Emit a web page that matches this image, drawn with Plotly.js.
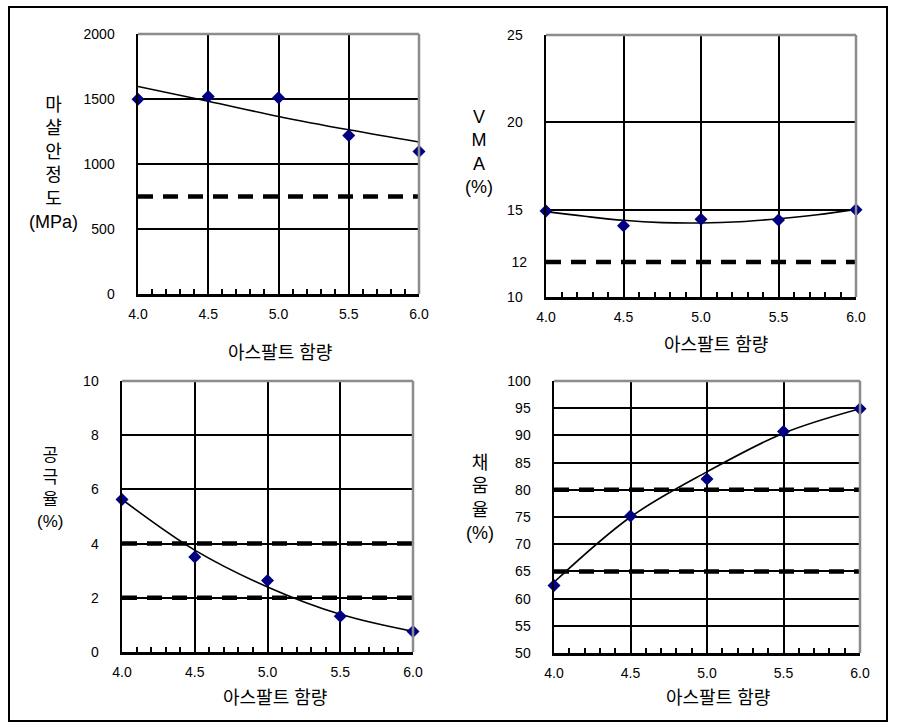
<!DOCTYPE html>
<html>
<head>
<meta charset="utf-8">
<script src="https://cdn.plot.ly/plotly-3.0.1.min.js"></script>
<style>
  html, body { margin: 0; padding: 0; background: #fff; }
  #chart { width: 904px; height: 728px; }
</style>
</head>
<body>
<div id="chart"></div>
<script>
// ---- data ----
const asphaltContent = [4.0, 4.5, 5.0, 5.5, 6.0];
const vmaTrendX = [4.0, 4.25, 4.5, 4.75, 5.0, 5.25, 5.5, 5.75, 6.0];
const xTickVals = [4.0, 4.5, 5.0, 5.5, 6.0];
const xTickText = ['4.0', '4.5', '5.0', '5.5', '6.0'];

const marshall = [1499, 1519, 1509, 1220, 1097];
const marshallTrend = [1596, 1483, 1366, 1263, 1169];
const marshallLimit = [750, 750];

const vma = [14.92, 14.08, 14.45, 14.41, 15.0];
const vmaTrend = [14.89, 14.62, 14.39, 14.26, 14.24, 14.31, 14.48, 14.71, 15.02];
const vmaLimit = [12, 12];

const airVoids = [5.63, 3.51, 2.64, 1.32, 0.76];
const airVoidsTrend = [5.63, 3.76, 2.40, 1.39, 0.76];
const airVoidsUpper = [4, 4];
const airVoidsLower = [2, 2];

const vfa = [62.4, 75.2, 82.0, 90.7, 94.9];
const vfaTrend = [63.0, 75.0, 83.3, 90.4, 94.9];
const vfaUpper = [80, 80];
const vfaLower = [65, 65];

const limitX = [4.0, 6.0];

// ---- styling ----
const W = 904, H = 728;
const px = v => v / W;
const py = v => 1 - v / H;
const tickFont = { family: 'Liberation Sans, Arial, sans-serif', size: 14, color: '#000' };
const titleFont = { family: "Liberation Sans, 'Noto Sans CJK KR', sans-serif", size: 18, color: '#000' };

function pointsTrace(y, xa, ya) {
  return { x: asphaltContent, y: y, xaxis: xa, yaxis: ya, type: 'scatter', mode: 'markers',
    marker: { symbol: 'diamond', size: 10, color: '#000080' }, cliponaxis: false, hoverinfo: 'skip' };
}
function trendTrace(x, y, xa, ya) {
  return { x: x, y: y, xaxis: xa, yaxis: ya, type: 'scatter', mode: 'lines',
    line: { color: '#000', width: 1.6, shape: 'spline', smoothing: 1 }, cliponaxis: false, hoverinfo: 'skip' };
}
function limitTrace(y, xa, ya) {
  return { x: limitX, y: y, xaxis: xa, yaxis: ya, type: 'scatter', mode: 'lines',
    line: { color: '#000', width: 4.5, dash: '15px,10px' }, hoverinfo: 'skip' };
}

const traces = [
  limitTrace(marshallLimit, 'x', 'y'),
  trendTrace(asphaltContent, marshallTrend, 'x', 'y'),
  pointsTrace(marshall, 'x', 'y'),

  limitTrace(vmaLimit, 'x2', 'y5'),
  trendTrace(vmaTrendX, vmaTrend, 'x2', 'y2'),
  pointsTrace(vma, 'x2', 'y2'),

  limitTrace(airVoidsUpper, 'x3', 'y3'),
  limitTrace(airVoidsLower, 'x3', 'y3'),
  trendTrace(asphaltContent, airVoidsTrend, 'x3', 'y3'),
  pointsTrace(airVoids, 'x3', 'y3'),

  limitTrace(vfaUpper, 'x4', 'y4'),
  limitTrace(vfaLower, 'x4', 'y4'),
  trendTrace(asphaltContent, vfaTrend, 'x4', 'y4'),
  pointsTrace(vfa, 'x4', 'y4'),
];

function xAxis(domain, anchor) {
  return {
    domain: domain, anchor: anchor, range: [4, 6], tickmode: 'array', tickvals: xTickVals, ticktext: xTickText,
    showgrid: true, gridcolor: '#000', gridwidth: 2, zeroline: false,
    showline: true, linecolor: '#000', linewidth: 2.5,
    ticks: 'inside', ticklen: 5, tickwidth: 2, tickcolor: '#000',
    minor: { dtick: 0.1, ticks: 'inside', ticklen: 5, tickwidth: 2, tickcolor: '#000', showgrid: false },
    tickfont: tickFont, ticklabelstandoff: 6, fixedrange: true
  };
}
function yAxis(domain, anchor, range, tickvals) {
  return {
    domain: domain, anchor: anchor, range: range, tickmode: 'array', tickvals: tickvals,
    showgrid: true, gridcolor: '#000', gridwidth: 2, zeroline: false,
    showline: true, linecolor: '#000', linewidth: 2.5, ticks: '',
    tickfont: tickFont, ticklabelstandoff: 18, fixedrange: true
  };
}

const d1x = [px(138), px(419)], d1y = [py(294), py(34)];
const d2x = [px(546), px(856)], d2y = [py(297), py(35)];
const d3x = [px(122), px(413)], d3y = [py(652), py(381)];
const d4x = [px(554), px(860)], d4y = [py(653), py(381)];

const shapes = [];
[['x', 'y'], ['x2', 'y2'], ['x3', 'y3'], ['x4', 'y4']].forEach(([xa, ya]) => {
  shapes.push({ type: 'line', xref: xa + ' domain', yref: ya + ' domain', x0: 0, x1: 1, y0: 1, y1: 1,
    line: { color: '#8c8c8c', width: 2.5 }, layer: 'above' });
  shapes.push({ type: 'line', xref: xa + ' domain', yref: ya + ' domain', x0: 1, x1: 1, y0: 0, y1: 1,
    line: { color: '#8c8c8c', width: 2.5 }, layer: 'above' });
});
// outer frame
shapes.push({ type: 'rect', xref: 'paper', yref: 'paper', x0: px(9), x1: px(887), y0: py(721), y1: py(7),
  line: { color: '#000', width: 2 }, fillcolor: 'rgba(0,0,0,0)', layer: 'above' });

function ann(text, x, y, size) {
  return { text: text, xref: 'paper', yref: 'paper', x: px(x), y: py(y), xanchor: 'center', yanchor: 'middle',
    showarrow: false, font: Object.assign({}, titleFont, size ? { size: size } : {}) };
}
const xTitle = '아스팔트 함량';
const annotations = [
  ann(xTitle, 280, 353), ann(xTitle, 716, 345), ann(xTitle, 275, 698), ann(xTitle, 718, 698),
  ann('마<br>샬<br>안<br>정<br>도<br>(MPa)', 53, 163),
  ann('V<br>M<br>A<br>(%)', 479, 152),
  ann('공<br>극<br>율<br>(%)', 50, 489, 17),
  ann('채<br>움<br>율<br>(%)', 480, 498),
];

const layout = {
  width: W, height: H, margin: { l: 0, r: 0, t: 0, b: 0 },
  paper_bgcolor: '#fff', plot_bgcolor: '#fff', showlegend: false,
  xaxis: xAxis(d1x, 'y'), yaxis: yAxis(d1y, 'x', [0, 2000], [0, 500, 1000, 1500, 2000]),
  xaxis2: xAxis(d2x, 'y2'), yaxis2: yAxis(d2y, 'x2', [10, 25], [10, 15, 20, 25]),
  yaxis5: Object.assign(yAxis(d2y, 'x2', [10, 25], [12]), { overlaying: 'y2', showgrid: false, showline: false, side: 'left' }),
  xaxis3: xAxis(d3x, 'y3'), yaxis3: yAxis(d3y, 'x3', [0, 10], [0, 2, 4, 6, 8, 10]),
  xaxis4: xAxis(d4x, 'y4'), yaxis4: yAxis(d4y, 'x4', [50, 100], [50, 55, 60, 65, 70, 75, 80, 85, 90, 95, 100]),
  shapes: shapes, annotations: annotations, hovermode: false
};

Plotly.newPlot('chart', traces, layout, { staticPlot: true, displayModeBar: false });
</script>
</body>
</html>
